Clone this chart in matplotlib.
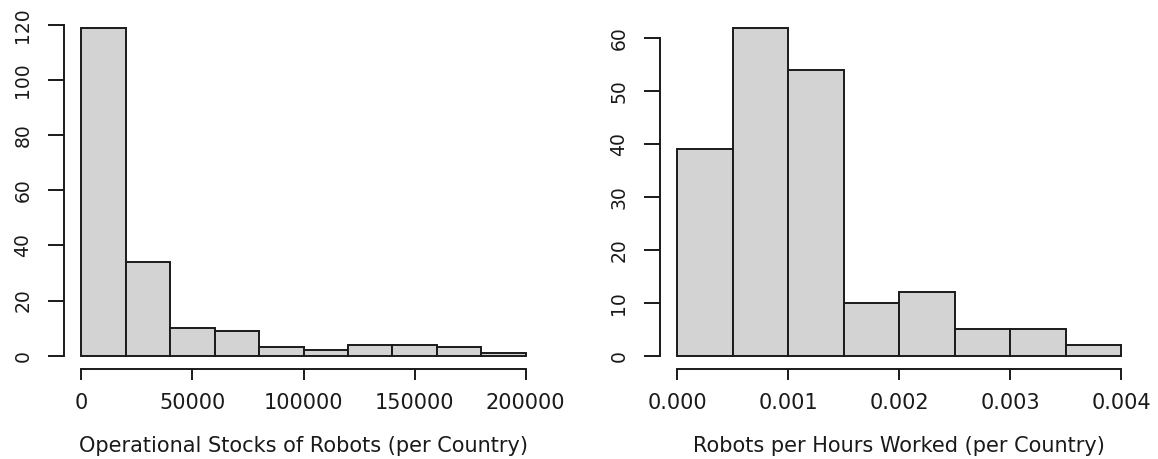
import numpy as np
import matplotlib
matplotlib.use("Agg")
import matplotlib.pyplot as plt
from matplotlib.ticker import FormatStrFormatter

plt.rcParams["font.family"] = ["DejaVu Sans"]

# histogram counts
stock_edges = np.arange(0, 200001, 20000)
stock_counts = [119, 34, 10, 9, 3, 2, 4, 4, 3, 1]
stock_xticks = [0, 50000, 100000, 150000, 200000]
stock_yticks = [0, 20, 40, 60, 80, 100, 120]
stock_label = "Operational Stocks of Robots (per Country)"

hours_edges = np.arange(0, 0.00401, 0.0005)
hours_counts = [39, 62, 54, 10, 12, 5, 5, 2]
hours_xticks = [0.000, 0.001, 0.002, 0.003, 0.004]
hours_yticks = [0, 10, 20, 30, 40, 50, 60]
hours_label = "Robots per Hours Worked (per Country)"

W, H = 1158, 459
fig = plt.figure(figsize=(W / 100, H / 100), dpi=100)

ax1 = fig.add_axes([63.7 / W, 1 - 368.8 / H, 479.6 / W, 354.2 / H])
ax2 = fig.add_axes([659.5 / W, 1 - 368.8 / H, 479.6 / W, 354.2 / H])

INK = "#1a1a1a"


def r_hist(ax, edges, counts, xticks, yticks, label):
    edges = np.asarray(edges)
    ax.bar(edges[:-1], counts, width=np.diff(edges), align="edge",
           color="#d3d3d3", edgecolor=INK, linewidth=1.4)
    # R pads both axis ranges by 4%
    x0, x1 = edges[0], edges[-1]
    dx = (x1 - x0) * 0.04
    ax.set_xlim(x0 - dx, x1 + dx)
    top = max(counts)
    ax.set_ylim(-0.04 * top, top * 1.04)

    for s in ["top", "right"]:
        ax.spines[s].set_visible(False)
    for s in ["bottom", "left"]:
        ax.spines[s].set_linewidth(1.4)
        ax.spines[s].set_color(INK)
    ax.spines["bottom"].set_bounds(xticks[0], xticks[-1])
    ax.spines["left"].set_bounds(yticks[0], yticks[-1])

    ax.set_xticks(xticks)
    ax.set_yticks(yticks)
    ax.tick_params(axis="x", length=8.2, width=1.4, pad=9.5,
                   labelsize=15, color=INK, labelcolor=INK)
    ax.tick_params(axis="y", length=11.5, width=1.4, pad=11,
                   labelsize=13.5, color=INK, labelcolor=INK)
    plt.setp(ax.get_yticklabels(), rotation=90, va="center")

    ax.set_xlabel(label, fontsize=15, color=INK)
    ax.xaxis.set_label_coords(0.5, -0.219)
    ax.xaxis.label.set_va("center")
    ax.patch.set_visible(False)


r_hist(ax1, stock_edges, stock_counts, stock_xticks, stock_yticks, stock_label)
ax1.set_xticklabels([str(v) for v in stock_xticks])

r_hist(ax2, hours_edges, hours_counts, hours_xticks, hours_yticks, hours_label)
ax2.xaxis.set_major_formatter(FormatStrFormatter("%.3f"))

fig.savefig("out.png", dpi=100)
